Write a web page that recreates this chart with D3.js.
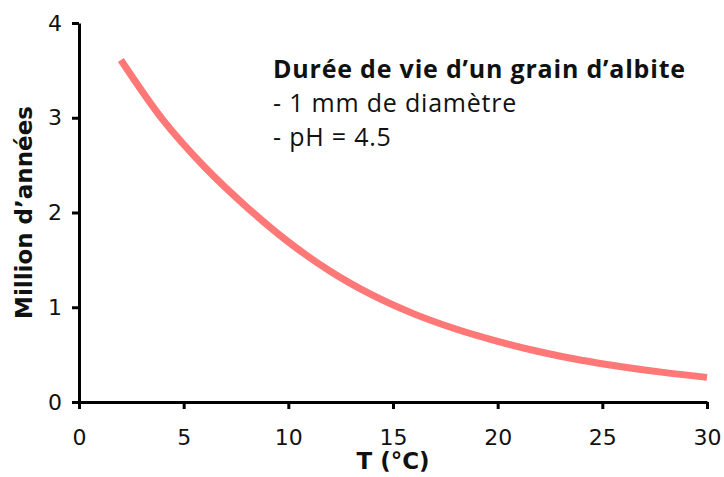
<!DOCTYPE html>
<html>
<head>
<meta charset="utf-8">
<script src="https://cdnjs.cloudflare.com/ajax/libs/d3/7.8.5/d3.min.js"></script>
<style>
  body { margin: 0; background: #fff; }
  .axis path, .axis line { stroke: #000; stroke-width: 3px; }
  .axis text { font-family: "DejaVu Sans", Verdana, sans-serif; font-size: 22px; fill: #111; }
  .axisTitle { font-family: "DejaVu Sans", Verdana, sans-serif; font-weight: bold; font-size: 23px; fill: #111; }
  .note { font-family: "Open Sans", sans-serif; font-size: 25px; letter-spacing: 0.8px; fill: #111; }
</style>
</head>
<body>
<div id="chart"></div>
<script>
// temperature (°C) and lifetime (million years)
var temps = [2, 4, 6, 8, 10, 12, 14, 16, 18, 20, 22, 24, 26, 28, 30];
var lifetime = [3.61, 2.98, 2.48, 2.06, 1.69, 1.38, 1.13, 0.93, 0.77, 0.64, 0.53, 0.44, 0.37, 0.31, 0.26];
var xTicks = [0, 5, 10, 15, 20, 25, 30];
var yTicks = [0, 1, 2, 3, 4];
var noteLines = ["Durée de vie d’un grain d’albite", "- 1 mm de diamètre", "- pH = 4.5"];

var svgWidth = 724;
var svgHeight = 477;

var margin = { top: 23, right: 17, bottom: 75, left: 79 };
var width = svgWidth - margin.left - margin.right;
var height = svgHeight - margin.top - margin.bottom;

var svg = d3.select("#chart")
  .append("svg")
  .attr("width", svgWidth)
  .attr("height", svgHeight);

var chartGroup = svg.append("g")
  .attr("transform", `translate(${margin.left}, ${margin.top})`);

// scales
var xScale = d3.scaleLinear().domain([0, 30]).range([0, width]);
var yScale = d3.scaleLinear().domain([0, 4]).range([height, 0]);

// axes
var bottomAxis = d3.axisBottom(xScale).tickValues(xTicks).tickFormat(d3.format("d"))
  .tickSizeInner(7).tickSizeOuter(0).tickPadding(20);
var leftAxis = d3.axisLeft(yScale).tickValues(yTicks).tickFormat(d3.format("d"))
  .tickSizeInner(7).tickSizeOuter(0).tickPadding(10);

chartGroup.append("g")
  .attr("class", "axis")
  .attr("transform", `translate(0, ${height})`)
  .call(bottomAxis);

chartGroup.append("g")
  .attr("class", "axis")
  .call(leftAxis);

// curve
var data = temps.map(function(t, i) { return { t: t, v: lifetime[i] }; });
var line = d3.line()
  .x(d => xScale(d.t))
  .y(d => yScale(d.v))
  .curve(d3.curveMonotoneX);

chartGroup.append("path")
  .datum(data)
  .attr("d", line)
  .attr("fill", "none")
  .attr("stroke", "#ff7878")
  .attr("stroke-width", 7);

// axis titles
svg.append("text")
  .attr("class", "axisTitle")
  .attr("text-anchor", "middle")
  .attr("x", margin.left + xScale(15))
  .attr("y", 469)
  .text("T (°C)");

svg.append("text")
  .attr("class", "axisTitle")
  .attr("text-anchor", "middle")
  .attr("transform", `translate(32, ${margin.top + height / 2}) rotate(-90)`)
  .text("Million d’années");

// annotation
var note = svg.append("text")
  .attr("class", "note")
  .attr("x", 273)
  .attr("y", 78);

noteLines.forEach(function(s, i) {
  note.append("tspan")
    .attr("x", 273)
    .attr("dy", i == 0 ? 0 : 34)
    .attr("font-weight", i == 0 ? "bold" : "normal")
    .text(s);
});
</script>
</body>
</html>
